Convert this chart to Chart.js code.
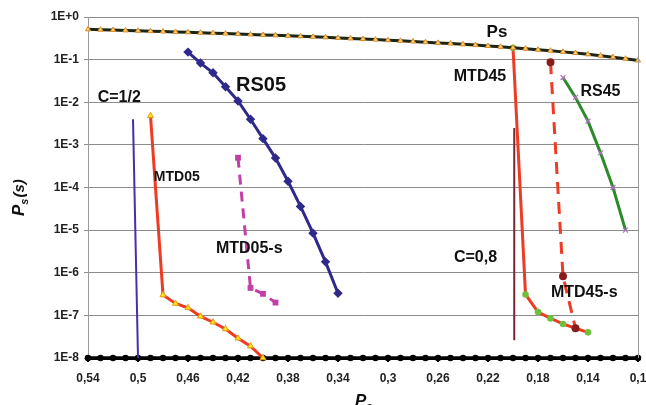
<!DOCTYPE html>
<html>
<head>
<meta charset="utf-8">
<script src="https://cdn.jsdelivr.net/npm/chart.js@4.4.1/dist/chart.umd.min.js"></script>
<style>
  html, body { margin: 0; padding: 0; background: #fff; }
  canvas { display: block; }
</style>
</head>
<body>
<canvas id="chart" width="646" height="405"></canvas>
<script>
// x values of the Ps curve and of the bottom line (step 0.01)
var pGrid = [0.54, 0.53, 0.52, 0.51, 0.50, 0.49, 0.48, 0.47, 0.46, 0.45,
             0.44, 0.43, 0.42, 0.41, 0.40, 0.39, 0.38, 0.37, 0.36, 0.35,
             0.34, 0.33, 0.32, 0.31, 0.30, 0.29, 0.28, 0.27, 0.26, 0.25,
             0.24, 0.23, 0.22, 0.21, 0.20, 0.19, 0.18, 0.17, 0.16, 0.15,
             0.14, 0.13, 0.12, 0.11, 0.10];
var psValues = [0.513, 0.504, 0.494, 0.485, 0.475, 0.466, 0.456, 0.447, 0.437, 0.428,
                0.418, 0.409, 0.399, 0.390, 0.380, 0.371, 0.361, 0.352, 0.342, 0.333,
                0.323, 0.314, 0.304, 0.295, 0.285, 0.276, 0.266, 0.257, 0.247, 0.238,
                0.228, 0.219, 0.209, 0.200, 0.190, 0.181, 0.171, 0.162, 0.152, 0.143,
                0.133, 0.124, 0.114, 0.105, 0.095];
var floorValue = 1e-8;

var c12P = [0.504, 0.500];
var c12Y = [4e-3, 1e-8];

var mtd05P = [0.49, 0.48, 0.47, 0.46, 0.45, 0.44, 0.43, 0.42, 0.41, 0.40];
var mtd05Y = [4.8e-3, 3e-7, 1.9e-7, 1.5e-7, 9.5e-8, 6.9e-8, 4.8e-8, 2.9e-8, 1.9e-8, 1e-8];

var mtd05sP = [0.42, 0.41, 0.40, 0.39];
var mtd05sY = [5e-4, 4.4e-7, 3.2e-7, 2e-7];

var rs05P = [0.46, 0.45, 0.44, 0.43, 0.42, 0.41, 0.40, 0.39, 0.38, 0.37, 0.36, 0.35, 0.34];
var rs05Y = [0.15, 0.083, 0.049, 0.023, 0.0107, 4e-3, 1.4e-3, 4.9e-4, 1.4e-4, 3.6e-5, 8.5e-6, 1.8e-6, 3.3e-7];

var c08P = [0.199, 0.199];
var c08Y = [2.5e-3, 2.6e-8];

var mtd45P = [0.20, 0.19, 0.18, 0.17, 0.16, 0.15, 0.14];
var mtd45Y = [0.19, 3.1e-7, 1.2e-7, 8.5e-8, 6.3e-8, 5e-8, 4e-8];

var mtd45sP = [0.17, 0.16, 0.15];
var mtd45sY = [0.087, 8.3e-7, 5e-8];

var rs45P = [0.16, 0.15, 0.14, 0.13, 0.12, 0.11];
var rs45Y = [0.038, 0.013, 0.0036, 6.5e-4, 1e-4, 1e-5];

var yTicks = [1, 1e-1, 1e-2, 1e-3, 1e-4, 1e-5, 1e-6, 1e-7, 1e-8];
var yTickLabels = ['1E+0', '1E-1', '1E-2', '1E-3', '1E-4', '1E-5', '1E-6', '1E-7', '1E-8'];
var xTicks = [0.54, 0.50, 0.46, 0.42, 0.38, 0.34, 0.30, 0.26, 0.22, 0.18, 0.14, 0.10];
var xTickLabels = ['0,54', '0,5', '0,46', '0,42', '0,38', '0,34', '0,3', '0,26', '0,22', '0,18', '0,14', '0,1'];

// curve labels, anchored in data coordinates
var labelText = ['Ps', 'MTD45', 'RS45', 'C=1/2', 'RS05', 'MTD05', 'MTD05-s', 'C=0,8', 'MTD45-s'];
var labelP    = [0.2128, 0.2264, 0.130, 0.515, 0.4016, 0.469, 0.411, 0.230, 0.143];
var labelY    = [0.445, 0.039, 0.0174, 0.0126, 0.025, 1.75e-4, 3.6e-6, 2.3e-6, 3.5e-7];
var labelSize = [17, 16, 16, 16, 20, 14, 16, 16, 16];

function pts(xs, ys) {
  return xs.map(function (x, i) { return { x: x, y: ys[i] }; });
}

var FONT = "'Liberation Sans', Arial, sans-serif";

var labelPlugin = {
  id: 'labels',
  afterDraw: function (chart) {
    var ctx = chart.ctx;
    var xs = chart.scales.x, ys = chart.scales.y;
    var area = chart.chartArea;
    ctx.save();
    // right frame line
    ctx.strokeStyle = '#9a9a9a';
    ctx.lineWidth = 1;
    ctx.beginPath();
    ctx.moveTo(area.right + 0.5, area.top);
    ctx.lineTo(area.right + 0.5, area.bottom);
    ctx.stroke();

    ctx.fillStyle = '#111';
    ctx.textAlign = 'center';
    ctx.textBaseline = 'middle';
    for (var i = 0; i < labelText.length; i++) {
      ctx.font = 'bold ' + labelSize[i] + 'px ' + FONT;
      ctx.fillText(labelText[i], xs.getPixelForValue(labelP[i]), ys.getPixelForValue(labelY[i]));
    }

    // y axis title: P_s(s)
    ctx.save();
    ctx.translate(24, 192);
    ctx.rotate(-Math.PI / 2);
    ctx.textAlign = 'left';
    ctx.textBaseline = 'alphabetic';
    ctx.font = 'italic bold 17px ' + FONT;
    var x0 = -24;
    ctx.fillText('P', x0, 0);
    var w = ctx.measureText('P').width;
    ctx.font = 'italic bold 11px ' + FONT;
    ctx.fillText('s', x0 + w, 4);
    var w2 = ctx.measureText('s').width;
    ctx.font = 'italic bold 15px ' + FONT;
    ctx.fillText('(s)', x0 + w + w2 + 1, 0);
    ctx.restore();

    // x axis title (cut by the bottom edge)
    ctx.textAlign = 'left';
    ctx.textBaseline = 'alphabetic';
    ctx.font = 'italic bold 17px ' + FONT;
    ctx.fillText('P', 355, 406);
    var pw = ctx.measureText('P').width;
    ctx.font = 'italic bold 11px ' + FONT;
    ctx.fillText('e', 355 + pw, 410);
    ctx.restore();
  }
};

var red = '#ee3b24';

new Chart(document.getElementById('chart').getContext('2d'), {
  type: 'line',
  data: {
    datasets: [
      {
        label: 'Ps',
        data: pts(pGrid, psValues),
        borderColor: '#1b2614',
        borderWidth: 3,
        pointStyle: 'triangle',
        pointRadius: 3,
        pointBackgroundColor: '#ffd27a',
        pointBorderColor: '#e08a1e',
        pointBorderWidth: 1
      },
      {
        label: 'MTD45-s',
        data: pts(mtd45sP, mtd45sY),
        borderColor: red,
        borderWidth: 3,
        borderDash: [12, 8],
        pointStyle: 'circle',
        pointRadius: 2.5,
        pointBackgroundColor: '#8a1c1c',
        pointBorderColor: '#8a1c1c'
      },
      {
        label: 'MTD45',
        data: pts(mtd45P, mtd45Y),
        borderColor: red,
        borderWidth: 3,
        pointStyle: 'circle',
        pointRadius: 1.8,
        pointBackgroundColor: '#6cc23a',
        pointBorderColor: '#6cc23a'
      },
      {
        label: 'RS45',
        data: pts(rs45P, rs45Y),
        borderColor: '#2d8a2a',
        borderWidth: 3,
        pointStyle: 'crossRot',
        pointRadius: 3.5,
        pointBorderColor: '#b071c4',
        pointBorderWidth: 1.2
      },
      {
        label: 'C=0,8',
        data: pts(c08P, c08Y),
        borderColor: '#7a2630',
        borderWidth: 2,
        pointRadius: 0
      },
      {
        label: 'RS05',
        data: pts(rs05P, rs05Y),
        borderColor: '#2e2a8c',
        borderWidth: 3,
        pointStyle: 'rectRot',
        pointRadius: 2.6,
        pointBackgroundColor: '#2e2a8c',
        pointBorderColor: '#2e2a8c'
      },
      {
        label: 'MTD05-s',
        data: pts(mtd05sP, mtd05sY),
        borderColor: '#c23fa8',
        borderWidth: 3,
        borderDash: [10, 7],
        pointStyle: 'rect',
        pointRadius: 2,
        pointBackgroundColor: '#c23fa8',
        pointBorderColor: '#c23fa8'
      },
      {
        label: 'MTD05',
        data: pts(mtd05P, mtd05Y),
        borderColor: red,
        borderWidth: 3,
        pointStyle: 'triangle',
        pointRadius: 3.5,
        pointBackgroundColor: '#ffe81a',
        pointBorderColor: '#e39a10',
        pointBorderWidth: 1
      },
      {
        label: 'C=1/2',
        data: pts(c12P, c12Y),
        borderColor: '#4a2ea6',
        borderWidth: 2,
        pointRadius: 0
      },
      {
        label: 'floor',
        data: pts(pGrid, pGrid.map(function () { return floorValue; })),
        borderColor: '#000',
        borderWidth: 3.5,
        pointStyle: 'circle',
        pointRadius: 1.5,
        pointBackgroundColor: '#000',
        pointBorderColor: '#000'
      }
    ]
  },
  options: {
    responsive: false,
    animation: false,
    devicePixelRatio: 1,
    layout: { padding: { top: 17, right: 8, left: 0, bottom: 0 } },
    plugins: {
      legend: { display: false },
      tooltip: { enabled: false }
    },
    elements: { line: { tension: 0, fill: false } },
    datasets: { line: { clip: false } },
    scales: {
      x: {
        type: 'linear',
        reverse: true,
        min: 0.10,
        max: 0.54,
        afterBuildTicks: function (scale) {
          scale.ticks = xTicks.map(function (v) { return { value: v }; });
        },
        afterFit: function (scale) {
          scale.height = 47;
          scale.paddingLeft = 0;
          scale.paddingRight = 0;
        },
        ticks: {
          autoSkip: false,
          maxRotation: 0,
          padding: 9,
          color: '#222',
          font: { family: FONT, size: 12, weight: 'bold' },
          callback: function (value) {
            var i = xTicks.indexOf(Number(value.toFixed(2)));
            return i >= 0 ? xTickLabels[i] : '';
          }
        },
        grid: { drawOnChartArea: false, drawTicks: true, tickLength: 4, color: '#000', lineWidth: 2 },
        border: { display: true, color: '#000', width: 3 }
      },
      y: {
        type: 'logarithmic',
        min: 1e-8,
        max: 1,
        afterBuildTicks: function (scale) {
          scale.ticks = yTicks.map(function (v) { return { value: v }; });
        },
        afterFit: function (scale) {
          scale.width = 88;
          scale.paddingTop = 0;
          scale.paddingBottom = 0;
        },
        ticks: {
          autoSkip: false,
          padding: 5,
          color: '#222',
          font: { family: FONT, size: 12, weight: 'bold' },
          callback: function (value) {
            var i = yTicks.indexOf(value);
            return i >= 0 ? yTickLabels[i] : '';
          }
        },
        grid: { color: '#8c8c8c', lineWidth: 1, tickLength: 4 },
        border: { display: true, color: '#9a9a9a', width: 1 }
      }
    }
  },
  plugins: [labelPlugin]
});
</script>
</body>
</html>
